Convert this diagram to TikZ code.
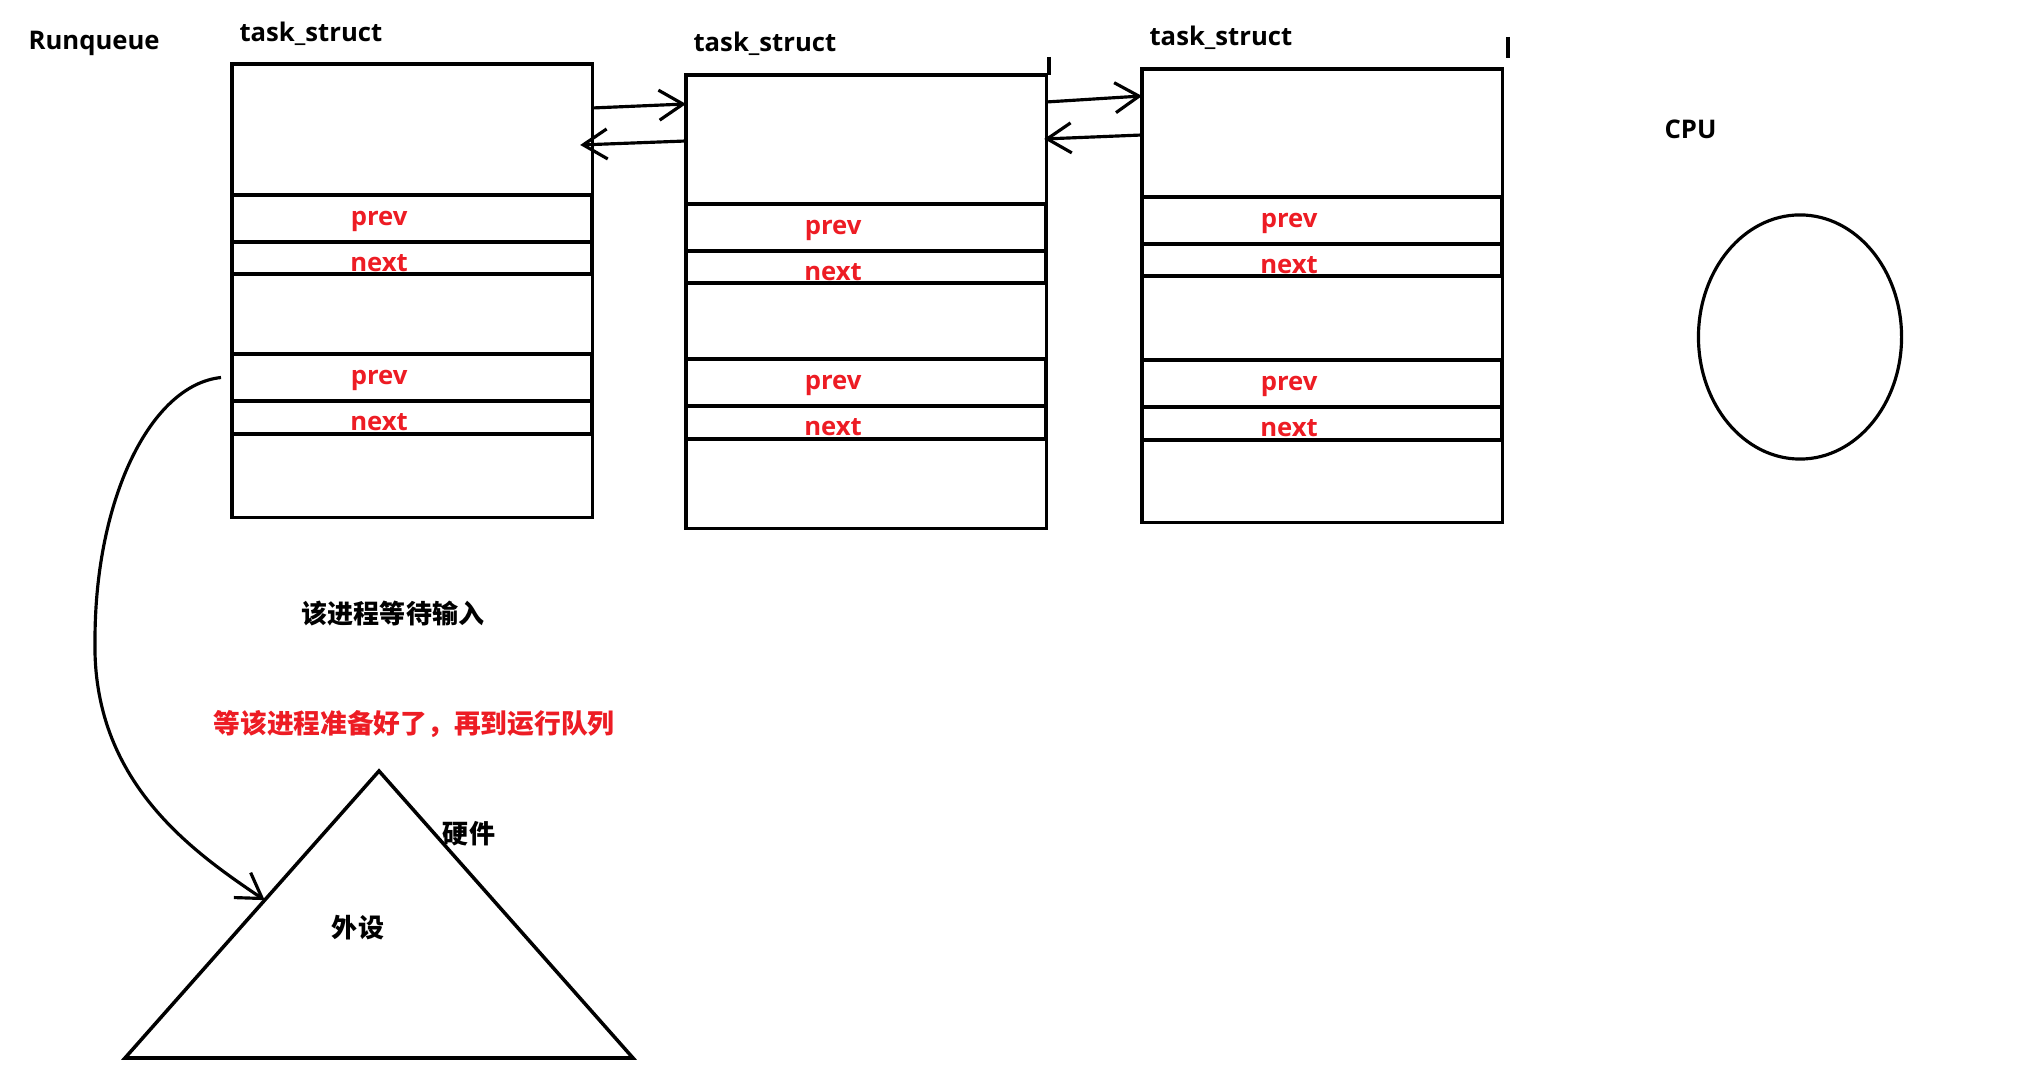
\documentclass[tikz,border=0pt]{standalone}
\usepackage{fontspec}
\setmainfont{Open Sans}
\newfontfamily\cjk{Noto Sans CJK SC}
\usetikzlibrary{arrows.meta, positioning, shapes.geometric, calc}
\definecolor{pred}{HTML}{ED1C24}
\tikzset{
  every picture/.style={font=\bfseries\fontsize{7.3}{9}\selectfont, line width=0.9pt},
  txt/.style={inner sep=0pt, anchor=base west},
  task/.style={draw, anchor=north west, minimum width=3.6cm, minimum height=4.53cm, inner sep=0pt, outer sep=0pt},
  field/.style={draw, anchor=north west, minimum width=3.6cm, inner sep=0pt, outer sep=0pt, line width=1.1pt},
  ftxt/.style={text=pred, inner sep=0pt},
  link/.style={-{Straight Barb[length=2.4mm, width=3mm]}},
  zh/.style={font=\cjk\bfseries\fontsize{7.4}{9}\selectfont, inner sep=0pt},
}

\begin{document}
\begin{tikzpicture}[x=0.01cm, y=-0.01cm]
  \useasboundingbox (0,0) rectangle (2019,1077);
  \node[txt] (rq) at (27,50) {Runqueue};
  \foreach \i/\x/\y/\t/\a/\b in {1/232/64/42/131/290, 2/686/75/52/129/284, 3/1142/69/46/128/291} {
    \node[task] (ts\i) at (\x,\y) {};
    \node[txt] (tn\i) at (\x+6,\t) {task\_struct};
    \node[field, minimum height=0.47cm] (pa\i) at ($(ts\i.north west)+(0,\a)$) {};
    \node[field, minimum height=0.32cm, below=0pt of pa\i] (na\i) {};
    \node[field, minimum height=0.47cm] (pb\i) at ($(ts\i.north west)+(0,\b)$) {};
    \node[field, minimum height=0.33cm, below=0pt of pb\i] (nb\i) {};
    \node[ftxt] (lpa\i) at ($(pa\i.center)+(-33,3)$) {prev};
    \node[ftxt] (lna\i) at ($(na\i.center)+(-33,5)$) {next};
    \node[ftxt] (lpb\i) at ($(pb\i.center)+(-33,3)$) {prev};
    \node[ftxt] (lnb\i) at ($(nb\i.center)+(-33,5)$) {next};
  }
  \draw[link] ($(ts1.north east)+(0,44)$) -- ($(ts2.north west)+(0,29)$);
  \draw[link] ($(ts2.north west)+(0,66)$) -- ($(ts1.north east)+(-12,81)$);
  \draw[link] ($(ts2.north east)+(0,27)$) -- ($(ts3.north west)+(0,27)$);
  \draw[link] ($(ts3.north west)+(0,66)$) -- ($(ts2.north east)+(-2,64)$);
  \draw (1049,57) -- (1049,75);
  \draw (1508,37) -- (1508,58);

  \node[txt] (cpu) at (1663,139) {CPU};
  \node[draw, ellipse, minimum width=2.03cm, minimum height=2.44cm, inner sep=0pt] (core) at (1800,337) {};

  \coordinate (tl) at (125,1058);
  \coordinate (tr) at (633,1058);
  \coordinate (tp) at (379,771);
  \draw[line width=1pt] (tl) -- (tp) -- (tr) -- cycle;
  \node[zh] (wt) at (393,614) {该进程等待输入};
  \node[zh, text=pred, font=\cjk\bfseries\fontsize{7.6}{10}\selectfont] (rd) at (414,724) {等该进程准备好了，再到运行队列};
  \node[zh] (hw) at (469,834) {硬件};
  \node[zh] (pe) at (358,928) {外设};

  \coordinate (qout) at ($(pb1.west)+(-11,0)$);
  \coordinate (qin) at ($(tl)!0.55!(tp)$);
  \draw[link] (qout) .. controls (150,385) and (95,500) .. (95,640) .. controls (92,780) and (190,850) .. (qin);
\end{tikzpicture}
\end{document}
